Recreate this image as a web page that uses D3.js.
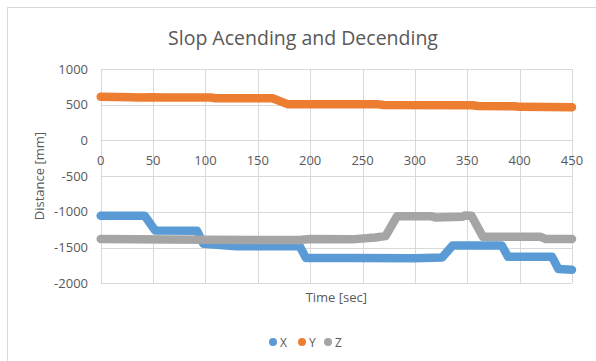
<!DOCTYPE html>
<html><head><meta charset="utf-8">
<script src="https://cdn.jsdelivr.net/npm/d3@7"></script>
<style>body{margin:0;background:#fff}svg{display:block}text{font-family:"Open Sans",sans-serif;fill:#595959}</style>
</head><body>
<script>
const title = "Slop Acending and Decending";
const xTicks = [0,50,100,150,200,250,300,350,400,450];
const yTicks = [-2000,-1500,-1000,-500,0,500,1000];
const seriesNames = ["X","Y","Z"];
const seriesColors = ["#5B9BD5","#ED7D31","#A5A5A5"];
const xData = [[0,-1055],[42,-1055],[52,-1260],[92,-1265],[98,-1445],[130,-1480],[190,-1480],[196,-1645],[240,-1645],[300,-1650],[326,-1640],[336,-1470],[383,-1470],[389,-1630],[431,-1630],[437,-1800],[450,-1810]];
const yData = [[0,610],[30,605],[35,600],[50,605],[60,600],[105,600],[110,590],[164,590],[179,505],[265,505],[270,495],[355,492],[360,482],[395,478],[400,470],[450,465]];
const zData = [[0,-1380],[100,-1390],[190,-1395],[200,-1380],[240,-1385],[262,-1360],[272,-1340],[283,-1060],[315,-1060],[320,-1080],[345,-1070],[348,-1050],[354,-1055],[365,-1350],[420,-1350],[425,-1380],[450,-1380]];
const allData = [xData, yData, zData];

const W = 596, H = 361;
const svg = d3.select("body").append("svg").attr("width", W).attr("height", H);
svg.append("rect").attr("x",7.5).attr("y",7.5).attr("width",620).attr("height",420)
  .attr("fill","#fff").attr("stroke","#d9d9d9");

const x = d3.scaleLinear().domain([0,450]).range([100.7,572]);
const y = d3.scaleLinear().domain([-2000,1000]).range([283.3,69]);

svg.append("text").attr("x",303).attr("y",45).attr("text-anchor","middle")
  .style("font-size","19.5px").text(title);

const g = svg.append("g");
g.selectAll(".hg").data(yTicks).join("line")
  .attr("x1",x(0)).attr("x2",x(450)).attr("y1",d=>Math.round(y(d))+0.5).attr("y2",d=>Math.round(y(d))+0.5)
  .attr("stroke","#d9d9d9");
g.selectAll(".vg").data(xTicks).join("line")
  .attr("x1",d=>Math.round(x(d))+0.5).attr("x2",d=>Math.round(x(d))+0.5).attr("y1",y(1000)).attr("y2",y(-2000))
  .attr("stroke","#d9d9d9");

g.selectAll(".yl").data(yTicks).join("text")
  .attr("x",88).attr("y",d=>y(d)+4.5).attr("text-anchor","end")
  .style("font-size","13px").text(d=>d);
g.selectAll(".xl").data(xTicks).join("text")
  .attr("x",d=>x(d)).attr("y",y(0)+24.5).attr("text-anchor","middle")
  .style("font-size","13px").text(d=>d);

svg.append("text").attr("transform",`translate(44,${(y(1000)+y(-2000))/2}) rotate(-90)`)
  .attr("text-anchor","middle").style("font-size","13px").text("Distance [mm]");
svg.append("text").attr("x",(x(0)+x(450))/2).attr("y",302).attr("text-anchor","middle")
  .style("font-size","13px").text("Time [sec]");

const line = d3.line().x(d=>x(d[0])).y(d=>y(d[1]));
allData.forEach((d,i)=>{
  svg.append("path").attr("d",line(d)).attr("fill","none")
    .attr("stroke",seriesColors[i]).attr("stroke-width",8.5)
    .attr("stroke-linejoin","round").attr("stroke-linecap","round");
});

const legX = [273,302,328];
seriesNames.forEach((n,i)=>{
  svg.append("circle").attr("cx",legX[i]).attr("cy",342).attr("r",4).attr("fill",seriesColors[i]);
  svg.append("text").attr("x",legX[i]+7).attr("y",346.5).style("font-size","12px").text(n);
});
</script>
</body></html>
